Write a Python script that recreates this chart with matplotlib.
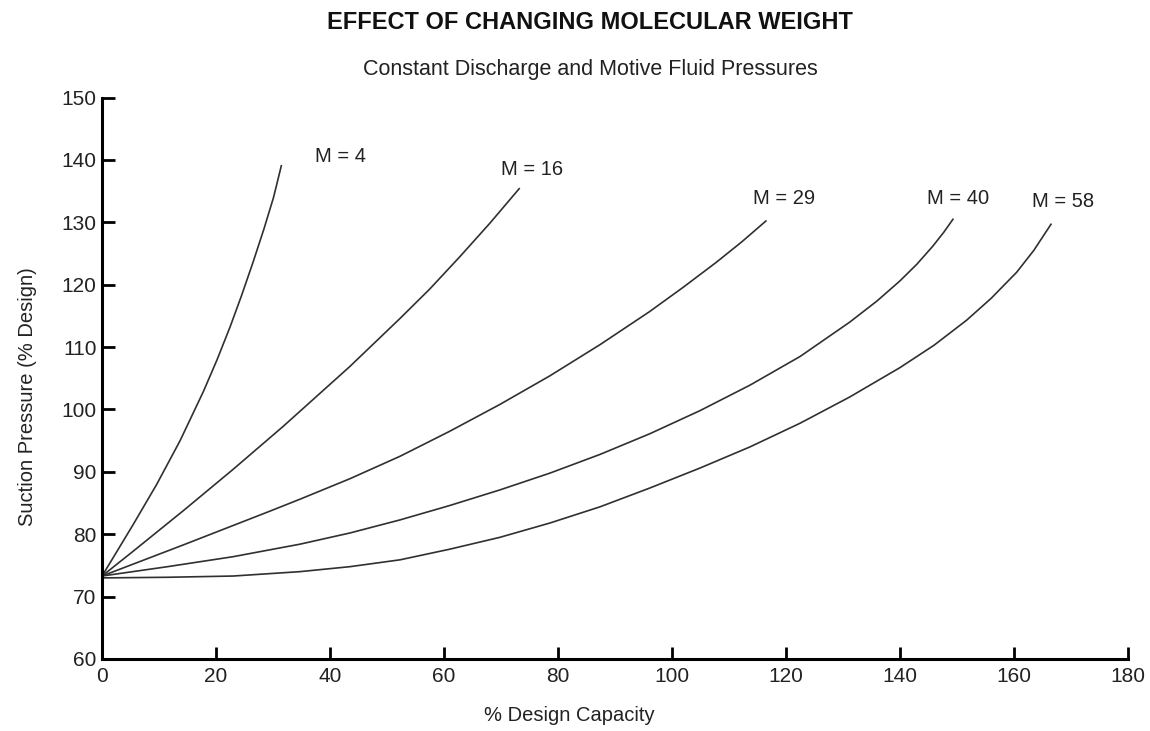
import matplotlib
matplotlib.use("Agg")
import matplotlib.pyplot as plt

plt.rcParams['font.family'] = ['Liberation Sans', 'DejaVu Sans']

# Data (x: % design capacity, y: suction pressure % design)
m4_x = [0, 1.4, 5.5, 9.6, 13.7, 17.8, 20.2, 22.5, 24.5, 26.5, 28.4, 30.1, 31.5]
m4_y = [73.3, 75.4, 81.6, 88.0, 95.0, 102.9, 108.0, 113.3, 118.3, 123.6, 128.9, 134.0, 139.2]

m16_x = [0, 5.5, 14.3, 23.0, 31.8, 43.5, 52.3, 57.5, 62.8, 68.0, 73.3]
m16_y = [73.3, 77.3, 83.8, 90.4, 97.3, 106.9, 114.6, 119.3, 124.5, 129.8, 135.5]

m29_x = [0, 14.3, 28.9, 34.7, 43.5, 52.3, 61.0, 69.8, 78.6, 87.4, 96.1, 102.0, 107.8, 112.3, 116.6]
m29_y = [73.3, 78.3, 83.5, 85.6, 88.9, 92.5, 96.5, 100.8, 105.4, 110.4, 115.7, 119.6, 123.6, 126.9, 130.3]

m40_x = [0, 11.5, 23.0, 34.7, 43.5, 52.3, 61.0, 69.8, 78.6, 87.4, 96.1, 104.9, 113.7, 122.5,
         131.2, 136.0, 140.0, 143.0, 145.8, 147.7, 149.4]
m40_y = [73.3, 74.8, 76.4, 78.4, 80.2, 82.3, 84.6, 87.1, 89.8, 92.8, 96.1, 99.8, 103.9, 108.5,
         114.0, 117.4, 120.6, 123.3, 126.2, 128.4, 130.6]

m58_x = [0, 11.5, 23.0, 34.7, 43.5, 52.3, 61.0, 69.8, 78.6, 87.4, 96.1, 104.9, 113.7, 122.5,
         131.2, 140.0, 146.0, 151.7, 156.0, 160.5, 163.5, 166.6]
m58_y = [73.0, 73.1, 73.3, 74.0, 74.8, 75.9, 77.6, 79.5, 81.8, 84.4, 87.4, 90.6, 94.0, 97.8,
         102.0, 106.7, 110.3, 114.3, 117.8, 122.0, 125.5, 129.8]

labels = ["M = 4", "M = 16", "M = 29", "M = 40", "M = 58"]
label_x = [41.8, 75.4, 119.6, 150.2, 168.7]
label_y = [140.6, 138.5, 133.9, 133.9, 133.4]

x_ticks = [0, 20, 40, 60, 80, 100, 120, 140, 160, 180]
y_ticks = [60, 70, 80, 90, 100, 110, 120, 130, 140, 150]

fig = plt.figure(figsize=(11.5, 7.31), dpi=100)
ax = fig.add_axes([0.0887, 0.0985, 0.892, 0.768])

series = [(m4_x, m4_y), (m16_x, m16_y), (m29_x, m29_y), (m40_x, m40_y), (m58_x, m58_y)]
for (xs, ys) in series:
    ax.plot(xs, ys, color='#303030', lw=1.2, solid_capstyle='butt')

for t, lx, ly in zip(labels, label_x, label_y):
    ax.text(lx, ly, t, ha='center', va='center', fontsize=14.5, color='#222222')

ax.set_xlim(0, 180)
ax.set_ylim(60, 150)
ax.set_xticks(x_ticks)
ax.set_yticks(y_ticks)
ax.tick_params(direction='in', length=9, width=2, labelsize=15, colors='black', labelcolor='#222222')
ax.tick_params(axis='y', pad=4)
ax.tick_params(axis='x', pad=6)

for s in ['top', 'right']:
    ax.spines[s].set_visible(False)
for s in ['left', 'bottom']:
    ax.spines[s].set_linewidth(2.2)

ax.set_xlabel('% Design Capacity', fontsize=14.5, color='#222222')
ax.set_ylabel('Suction Pressure (% Design)', fontsize=14.5, color='#222222')
ax.xaxis.set_label_coords(0.456, -0.083)
ax.yaxis.set_label_coords(-0.063, 0.467)

fig.text(0.513, 0.969, 'EFFECT OF CHANGING MOLECULAR WEIGHT', ha='center', va='center',
         fontsize=17, fontweight='bold', color='#111111')
fig.text(0.513, 0.905, 'Constant Discharge and Motive Fluid Pressures', ha='center', va='center',
         fontsize=15.5, color='#222222')

fig.savefig('out.png', dpi=100)
